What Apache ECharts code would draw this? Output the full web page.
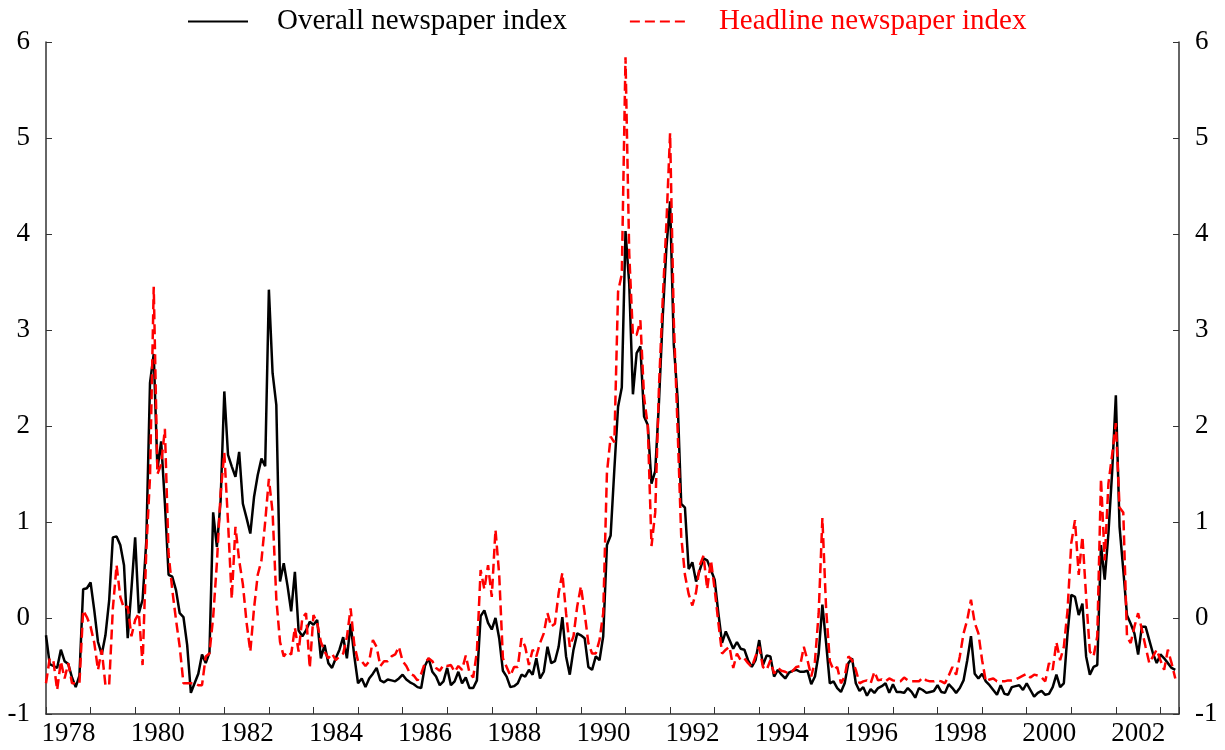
<!DOCTYPE html>
<html>
	<head>
		<meta charset="utf-8" />
		<title></title>
		<script src="https://cdn.jsdelivr.net/npm/echarts/dist/echarts.min.js"></script>
	</head>
	<body>
		<div id="main" style="width: 1225px; height: 750px;"></div>
	</body>
	<style>
		body{
			padding: 0px;
			margin: 0px;
			background: #fff;
		}
	</style>
	<script type="text/javascript">
	// monthly, Jan 1978 .. May 2003 (one row per year)
	var overall = [
		-0.18,-0.48,-0.50,-0.52,-0.33,-0.45,-0.48,-0.62,-0.72,-0.60,0.30,0.31,
		0.37,0.08,-0.25,-0.38,-0.18,0.18,0.84,0.85,0.76,0.55,-0.21,0.30,
		0.84,0.05,0.19,0.80,2.45,2.75,1.55,1.84,1.20,0.45,0.43,0.29,
		0.05,0.01,-0.28,-0.78,-0.68,-0.58,-0.38,-0.47,-0.36,1.10,0.74,1.22,
		2.36,1.70,1.58,1.47,1.73,1.19,1.04,0.88,1.26,1.49,1.66,1.58,
		3.42,2.55,2.22,0.38,0.57,0.34,0.07,0.48,-0.13,-0.19,-0.13,-0.04,
		-0.07,-0.02,-0.42,-0.28,-0.47,-0.52,-0.42,-0.33,-0.20,-0.42,-0.06,-0.40,
		-0.68,-0.63,-0.72,-0.63,-0.58,-0.52,-0.65,-0.67,-0.64,-0.65,-0.66,-0.63,
		-0.59,-0.64,-0.67,-0.69,-0.72,-0.73,-0.50,-0.42,-0.56,-0.61,-0.70,-0.66,
		-0.52,-0.70,-0.66,-0.56,-0.68,-0.62,-0.73,-0.73,-0.65,0.02,0.08,-0.05,
		-0.12,0.00,-0.21,-0.55,-0.61,-0.72,-0.71,-0.68,-0.59,-0.61,-0.54,-0.59,
		-0.42,-0.63,-0.56,-0.30,-0.47,-0.45,-0.30,0.01,-0.40,-0.59,-0.33,-0.16,
		-0.18,-0.21,-0.51,-0.54,-0.40,-0.44,-0.19,0.76,0.86,1.55,2.20,2.40,
		4.03,3.48,2.33,2.76,2.83,2.10,2.01,1.40,1.53,2.24,3.12,3.85,
		4.34,2.85,2.30,1.19,1.15,0.51,0.58,0.38,0.50,0.62,0.60,0.50,
		0.40,0.05,-0.26,-0.14,-0.23,-0.32,-0.25,-0.32,-0.33,-0.44,-0.51,-0.44,
		-0.23,-0.49,-0.39,-0.40,-0.61,-0.54,-0.59,-0.63,-0.57,-0.55,-0.54,-0.56,
		-0.56,-0.55,-0.69,-0.61,-0.37,0.14,-0.26,-0.68,-0.66,-0.73,-0.77,-0.68,
		-0.47,-0.42,-0.68,-0.76,-0.72,-0.81,-0.74,-0.78,-0.73,-0.71,-0.68,-0.78,
		-0.69,-0.77,-0.77,-0.78,-0.73,-0.77,-0.83,-0.73,-0.75,-0.78,-0.77,-0.76,
		-0.70,-0.77,-0.78,-0.69,-0.73,-0.78,-0.73,-0.65,-0.44,-0.19,-0.58,-0.63,
		-0.58,-0.66,-0.70,-0.75,-0.80,-0.70,-0.79,-0.80,-0.72,-0.71,-0.70,-0.75,
		-0.68,-0.75,-0.82,-0.78,-0.76,-0.80,-0.79,-0.72,-0.59,-0.72,-0.68,-0.16,
		0.24,0.22,0.03,0.15,-0.40,-0.59,-0.51,-0.49,0.76,0.40,0.88,1.52,
		2.32,0.95,0.50,0.03,-0.06,-0.16,-0.38,-0.09,-0.09,-0.23,-0.37,-0.47,
		-0.38,-0.42,-0.47,-0.52,-0.54
	];
	var headline = [
		-0.68,-0.42,-0.45,-0.75,-0.45,-0.63,-0.47,-0.68,-0.68,-0.68,0.08,0.01,
		-0.09,-0.26,-0.54,-0.33,-0.70,-0.70,0.10,0.55,0.22,0.10,0.12,-0.19,
		-0.02,0.05,-0.49,0.71,1.47,3.45,1.50,1.60,1.97,0.67,0.29,-0.02,
		-0.30,-0.68,-0.68,-0.68,-0.68,-0.70,-0.70,-0.40,-0.37,0.01,0.57,1.30,
		1.72,1.00,0.20,0.95,0.60,0.35,-0.05,-0.35,0.10,0.45,0.60,1.00,
		1.45,1.10,0.20,-0.25,-0.40,-0.35,-0.38,-0.10,-0.35,0.00,0.05,-0.52,
		0.03,-0.05,-0.25,-0.35,-0.42,-0.37,-0.44,-0.40,-0.37,-0.20,0.10,-0.28,
		-0.45,-0.45,-0.50,-0.45,-0.23,-0.30,-0.50,-0.45,-0.45,-0.40,-0.38,-0.30,
		-0.45,-0.50,-0.58,-0.60,-0.65,-0.58,-0.47,-0.42,-0.45,-0.52,-0.55,-0.49,
		-0.50,-0.49,-0.56,-0.50,-0.54,-0.39,-0.57,-0.62,-0.35,0.50,0.30,0.55,
		0.22,0.92,0.45,-0.42,-0.51,-0.60,-0.51,-0.51,-0.21,-0.30,-0.49,-0.33,
		-0.40,-0.26,-0.16,0.05,-0.09,-0.06,0.26,0.47,0.05,-0.30,-0.19,0.12,
		0.33,0.05,-0.26,-0.37,-0.37,-0.23,0.05,1.51,1.89,1.83,3.40,3.58,
		5.84,3.80,2.94,2.95,3.10,2.30,2.00,0.75,1.10,2.40,3.30,4.10,
		5.05,3.10,2.00,0.85,0.45,0.25,0.13,0.27,0.55,0.65,0.30,0.60,
		0.30,-0.05,-0.37,-0.33,-0.30,-0.52,-0.37,-0.44,-0.42,-0.47,-0.51,-0.40,
		-0.30,-0.51,-0.54,-0.44,-0.58,-0.52,-0.55,-0.56,-0.58,-0.55,-0.51,-0.50,
		-0.30,-0.44,-0.61,-0.45,0.05,1.04,0.10,-0.45,-0.54,-0.51,-0.68,-0.61,
		-0.40,-0.44,-0.54,-0.68,-0.66,-0.65,-0.68,-0.56,-0.65,-0.64,-0.66,-0.63,
		-0.65,-0.66,-0.66,-0.62,-0.65,-0.66,-0.66,-0.66,-0.62,-0.65,-0.66,-0.66,
		-0.65,-0.66,-0.68,-0.60,-0.51,-0.59,-0.40,-0.16,-0.02,0.19,-0.05,-0.16,
		-0.44,-0.66,-0.64,-0.63,-0.66,-0.66,-0.66,-0.65,-0.65,-0.64,-0.62,-0.60,
		-0.58,-0.62,-0.59,-0.60,-0.62,-0.66,-0.47,-0.54,-0.25,-0.44,-0.30,0.08,
		0.78,1.02,0.45,0.85,0.22,-0.35,-0.40,-0.19,1.45,0.60,1.40,1.70,
		2.03,1.15,1.10,-0.20,-0.26,-0.09,0.05,-0.12,-0.30,-0.47,-0.40,-0.33,
		-0.44,-0.54,-0.33,-0.47,-0.63
	];
	var startYear = 1978;
	var seriesNames = ['Overall newspaper index', 'Headline newspaper index'];
	var yTicks = [-1, 6, 1]; // min, max, step

	function pairs(arr) {
		return arr.map(function(v, i) { return [i, v]; });
	}

	var font = 'Liberation Serif';
	var mychart = echarts.init(document.getElementById('main'));

	var yAxisBase = {
		type: 'value',
		min: yTicks[0],
		max: yTicks[1],
		interval: yTicks[2],
		splitLine: { show: false },
		axisLine: { show: true, lineStyle: { color: '#333', width: 1.5 } },
		axisTick: { show: true, inside: true, length: 6, lineStyle: { color: '#333' } },
		axisLabel: { color: '#000', fontFamily: font, fontSize: 27, margin: 16 }
	};

	mychart.setOption({
		animation: false,
		backgroundColor: '#fff',
		legend: {
			left: 182,
			top: 2,
			itemWidth: 60,
			itemHeight: 24,
			itemGap: 62,
			itemStyle: { opacity: 0 },
			textStyle: { fontFamily: font, fontSize: 29, color: '#000', padding: [0, 0, 0, 24] },
			data: [
				{ name: seriesNames[0] },
				{ name: seriesNames[1], textStyle: { color: '#ff0000' } }
			]
		},
		grid: { left: 46, right: 46, top: 42, bottom: 36 },
		xAxis: {
			type: 'value',
			min: 0,
			max: overall.length,
			interval: 12,
			splitLine: { show: false },
			axisLine: { show: true, onZero: false, lineStyle: { color: '#333', width: 1.5 } },
			axisTick: { show: true, inside: true, length: 7, lineStyle: { color: '#333' } },
			axisLabel: {
				color: '#000', fontFamily: font, fontSize: 27, margin: 6,
				padding: [0, 0, 0, 45],
				formatter: function(v) {
					if (v % 24 === 0 && v < overall.length - 6) return String(startYear + v / 12);
					return '';
				}
			}
		},
		yAxis: [
			Object.assign({}, yAxisBase, { position: 'left' }),
			Object.assign({}, yAxisBase, { position: 'right' })
		],
		series: [
			{
				name: seriesNames[0],
				type: 'line',
				data: pairs(overall),
				showSymbol: false,
				symbol: 'none',
				lineStyle: { color: '#000', width: 2.5 },
				itemStyle: { color: '#000' }
			},
			{
				name: seriesNames[1],
				type: 'line',
				data: pairs(headline),
				showSymbol: false,
				symbol: 'none',
				lineStyle: { color: '#ff0000', width: 2.5, type: [10, 5] },
				itemStyle: { color: '#ff0000' }
			}
		]
	});
	</script>
</html>
